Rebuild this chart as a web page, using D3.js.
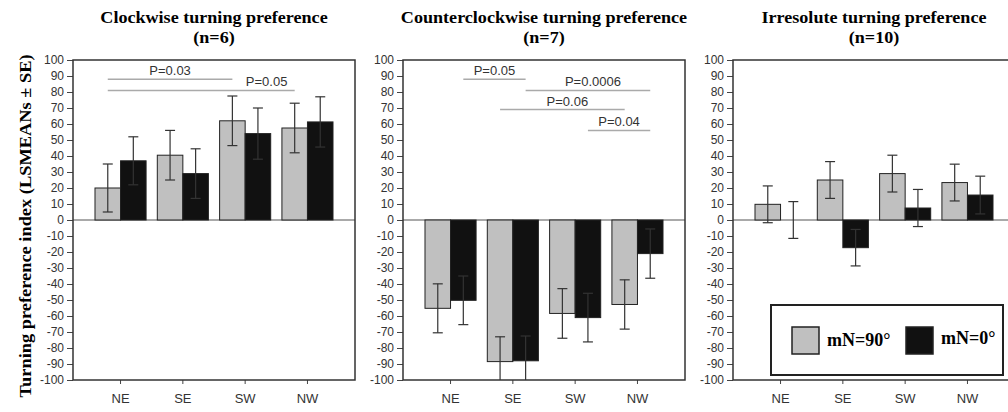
<!DOCTYPE html>
<html>
<head>
<meta charset="utf-8">
<script src="https://cdn.jsdelivr.net/npm/d3@7"></script>
<style>
body { margin: 0; background: #fff; }
svg { display: block; }
</style>
</head>
<body>
<svg id="chart" width="1008" height="412"></svg>
<script>
// turning preference index per release direction, three groups of animals

var categories = ["NE", "SE", "SW", "NW"]
var seriesNames = ["mN=90°", "mN=0°"]
var panelTitles = ["Clockwise turning preference", "Counterclockwise turning preference", "Irresolute turning preference"]
var panelN = ["(n=6)", "(n=7)", "(n=10)"]
var yTicks = [-100, -90, -80, -70, -60, -50, -40, -30, -20, -10, 0, 10, 20, 30, 40, 50, 60, 70, 80, 90, 100]

// LSMEANs and SE, one pair of arrays per series
var cwMean90 = [20, 40.5, 62, 57.5]
var cwSE90 = [15, 15.5, 15.5, 15.5]
var cwMean0 = [37, 29, 54, 61.3]
var cwSE0 = [15, 15.5, 16, 15.7]

var ccwMean90 = [-55.2, -88.5, -58.4, -52.8]
var ccwSE90 = [15.3, 15.5, 15.5, 15.4]
var ccwMean0 = [-50.2, -88, -61, -21]
var ccwSE0 = [15.2, 15.5, 15.2, 15.4]

var irrMean90 = [9.8, 25, 29, 23.4]
var irrSE90 = [11.5, 11.5, 11.5, 11.5]
var irrMean0 = [0, -17.3, 7.5, 15.6]
var irrSE0 = [11.5, 11.4, 11.6, 11.8]

// significance brackets: [category, series index]
var cwBrackets = [
  {from: ["NE", 0], to: ["SW", 0], level: 88, label: "P=0.03"},
  {from: ["NE", 0], to: ["NW", 0], level: 81, label: "P=0.05", labelFrac: 0.85}
]
var ccwBrackets = [
  {from: ["NE", 1], to: ["SE", 1], level: 88, label: "P=0.05"},
  {from: ["SE", 1], to: ["NW", 1], level: 81, label: "P=0.0006", labelFrac: 0.54},
  {from: ["SE", 0], to: ["NW", 0], level: 69, label: "P=0.06", labelFrac: 0.54},
  {from: ["SW", 1], to: ["NW", 1], level: 56, label: "P=0.04"}
]
var irrBrackets = []

function rows(m90, s90, m0, s0) {
  var out = []
  categories.forEach(function(c, i) {
    out.push({cat: c, s: 0, mean: m90[i], se: s90[i]})
    out.push({cat: c, s: 1, mean: m0[i], se: s0[i]})
  })
  return out
}

var panels = [
  {data: rows(cwMean90, cwSE90, cwMean0, cwSE0), brackets: cwBrackets},
  {data: rows(ccwMean90, ccwSE90, ccwMean0, ccwSE0), brackets: ccwBrackets},
  {data: rows(irrMean90, irrSE90, irrMean0, irrSE0), brackets: irrBrackets}
]

var panelLeft = [73, 403, 733]
var plotTop = 60
var width = 282
var height = 320
var fills = ["#c0c0c0", "#111111"]
var serif = "'Liberation Serif', 'Times New Roman', serif"
var sans = "'Liberation Sans', Arial, sans-serif"

var svg = d3.select("#chart")

var y = d3.scaleLinear().domain([-100, 100]).range([height, 0])
var x = d3.scaleBand().domain(categories).range([0, width]).paddingInner(0.18).paddingOuter(0.353)
var xs = d3.scaleBand().domain([0, 1]).range([0, x.bandwidth()])

function cx(cat, s) { return x(cat) + xs(s) + xs.bandwidth() / 2 }

// the scanned titles are a bit wider than the font draws them
function stretch(sel, k) {
  var len = sel.node().getComputedTextLength()
  sel.attr("textLength", len * k).attr("lengthAdjust", "spacingAndGlyphs")
}

panels.forEach(function(p, k) {
  var g = svg.append("g").attr("transform", "translate(" + panelLeft[k] + "," + plotTop + ")")

  // titles
  var t1 = svg.append("text")
    .attr("x", panelLeft[k] + width / 2).attr("y", 23)
    .attr("text-anchor", "middle")
    .style("font-family", serif).style("font-weight", "bold").style("font-size", "16px")
    .text(panelTitles[k])
  stretch(t1, 1.13)
  var t2 = svg.append("text")
    .attr("x", panelLeft[k] + width / 2).attr("y", 43)
    .attr("text-anchor", "middle")
    .style("font-family", serif).style("font-weight", "bold").style("font-size", "16px")
    .text(panelN[k])
  stretch(t2, 1.13)

  // zero line
  g.append("line")
    .attr("x1", 0).attr("x2", width)
    .attr("y1", y(0)).attr("y2", y(0))
    .attr("stroke", "#555").attr("stroke-width", 1)

  // bars
  g.selectAll("rect.bar")
    .data(p.data)
    .enter()
    .append("rect")
    .attr("class", "bar")
    .attr("x", function(d) { return x(d.cat) + xs(d.s) })
    .attr("width", xs.bandwidth())
    .attr("y", function(d) { return y(Math.max(0, d.mean)) })
    .attr("height", function(d) { return Math.abs(y(d.mean) - y(0)) })
    .attr("fill", function(d) { return fills[d.s] })
    .attr("stroke", "#222")
    .attr("stroke-width", 1)

  // error bars
  var eb = g.selectAll("g.err")
    .data(p.data)
    .enter()
    .append("g")
    .attr("class", "err")
    .attr("stroke", "#333")
    .attr("stroke-width", 1.2)
  var clip = function(v) { return Math.max(-100, Math.min(100, v)) }
  eb.append("line")
    .attr("x1", function(d) { return cx(d.cat, d.s) })
    .attr("x2", function(d) { return cx(d.cat, d.s) })
    .attr("y1", function(d) { return y(clip(d.mean + d.se)) })
    .attr("y2", function(d) { return y(clip(d.mean - d.se)) })
  eb.append("line")
    .attr("x1", function(d) { return cx(d.cat, d.s) - 5 })
    .attr("x2", function(d) { return cx(d.cat, d.s) + 5 })
    .attr("y1", function(d) { return y(d.mean + d.se) })
    .attr("y2", function(d) { return y(d.mean + d.se) })
    .attr("display", function(d) { return d.mean + d.se > 100 ? "none" : null })
  eb.append("line")
    .attr("x1", function(d) { return cx(d.cat, d.s) - 5 })
    .attr("x2", function(d) { return cx(d.cat, d.s) + 5 })
    .attr("y1", function(d) { return y(d.mean - d.se) })
    .attr("y2", function(d) { return y(d.mean - d.se) })
    .attr("display", function(d) { return d.mean - d.se < -100 ? "none" : null })

  // significance brackets
  var br = g.selectAll("g.br")
    .data(p.brackets)
    .enter()
    .append("g")
    .attr("class", "br")
  br.append("line")
    .attr("x1", function(d) { return cx(d.from[0], d.from[1]) })
    .attr("x2", function(d) { return cx(d.to[0], d.to[1]) })
    .attr("y1", function(d) { return y(d.level) })
    .attr("y2", function(d) { return y(d.level) })
    .attr("stroke", "#aaa").attr("stroke-width", 1.5)
  br.append("text")
    .attr("x", function(d) {
      var a = cx(d.from[0], d.from[1]), b = cx(d.to[0], d.to[1])
      var f = d.labelFrac == null ? 0.5 : d.labelFrac
      return a + (b - a) * f
    })
    .attr("y", function(d) { return y(d.level) - 4 })
    .attr("text-anchor", "middle")
    .style("font-family", sans).style("font-size", "13px").attr("fill", "#333")
    .text(function(d) { return d.label })

  // axes
  var ya = g.append("g")
    .call(d3.axisLeft(y).tickValues(yTicks).tickSize(6).tickPadding(3)
      .tickFormat(function(d) { return String(d) }))
  ya.select(".domain").remove()
  ya.selectAll("text").style("font-family", sans).style("font-size", "12px").attr("fill", "#333")
  ya.selectAll("line").attr("stroke", "#444")

  var xa = g.append("g")
    .attr("transform", "translate(0," + height + ")")
    .call(d3.axisBottom(x).tickSize(4).tickPadding(10))
  xa.select(".domain").remove()
  xa.selectAll("text").style("font-family", sans).style("font-size", "13px").attr("fill", "#333")
  xa.selectAll("line").attr("stroke", "#444")

  // frame
  g.append("rect")
    .attr("x", 0).attr("y", 0).attr("width", width).attr("height", height)
    .attr("fill", "none").attr("stroke", "#333").attr("stroke-width", 1.5)
})

// y axis title
svg.append("text")
  .attr("transform", "translate(31,226) rotate(-90)")
  .attr("text-anchor", "middle")
  .attr("textLength", 343).attr("lengthAdjust", "spacingAndGlyphs")
  .style("font-family", serif).style("font-weight", "bold").style("font-size", "16px")
  .text("Turning preference index (LSMEANs ± SE)")

// legend inside the third panel
var lg = svg.append("g").attr("transform", "translate(771,305)")
lg.append("rect")
  .attr("width", 232).attr("height", 70)
  .attr("fill", "#fff").attr("stroke", "#222").attr("stroke-width", 2)
var lgX = [21, 135]
seriesNames.forEach(function(name, i) {
  lg.append("rect")
    .attr("x", lgX[i]).attr("y", 22).attr("width", 27).attr("height", 27)
    .attr("fill", fills[i]).attr("stroke", "#222").attr("stroke-width", 1.5)
  lg.append("text")
    .attr("x", lgX[i] + 35).attr("y", i == 0 ? 41 : 39)
    .style("font-family", serif).style("font-weight", "bold").style("font-size", "18px")
    .text(name)
})
</script>
</body>
</html>
